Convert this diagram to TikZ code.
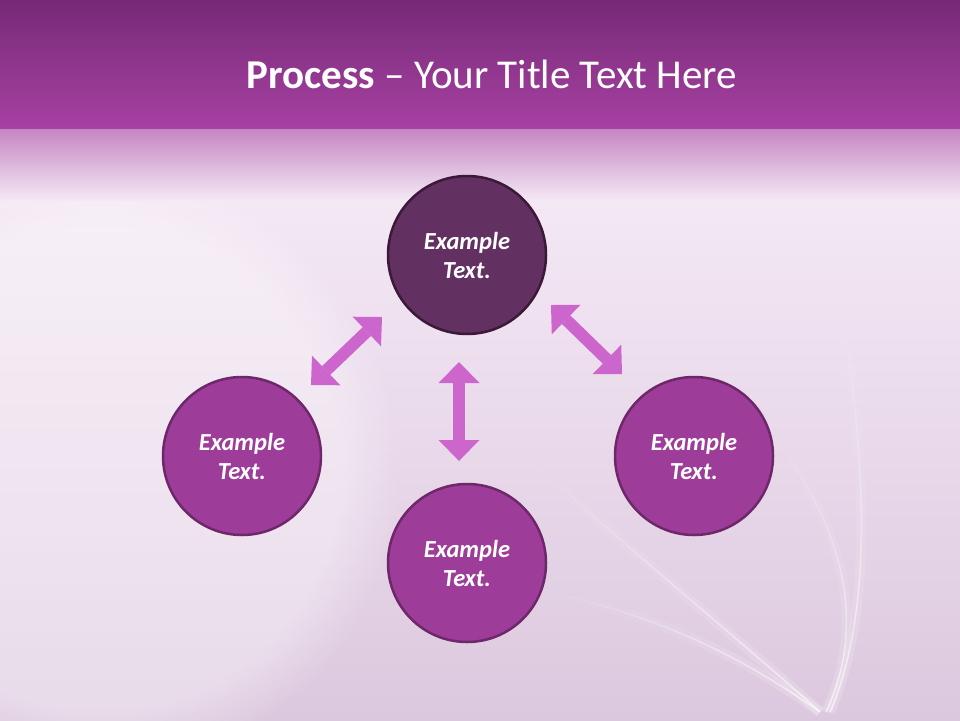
\documentclass[tikz,border=0pt]{standalone}
\usepackage{fontspec}
\setmainfont{Carlito}
\usetikzlibrary{arrows.meta,fadings}
\definecolor{bandtop}{HTML}{762A76}
\definecolor{bandbot}{HTML}{A741A3}
\definecolor{fadetop}{HTML}{C484C2}
\definecolor{fadebot}{HTML}{F4E8F5}
\definecolor{bodybot}{HTML}{DCC8DE}
\definecolor{darkfill}{HTML}{633062}
\definecolor{darkline}{HTML}{3C1839}
\definecolor{midfill}{HTML}{9D3C99}
\definecolor{midline}{HTML}{6E2869}
\definecolor{arrowc}{HTML}{CC66CC}
\tikzfading[name=fadeinE, left color=transparent!100, right color=transparent!0]
\tikzfading[name=fadeinS, top color=transparent!100, bottom color=transparent!0]
\tikzset{
  circbase/.style={circle, minimum size=158pt, inner sep=0pt, line width=2.5pt,
    text=white, align=center,
    font=\fontsize{24.5}{29}\selectfont\bfseries\itshape},
  darkcirc/.style={circbase, fill=darkfill, draw=darkline},
  midcirc/.style={circbase, fill=midfill, draw=midline},
  dblarrow/.style={draw=arrowc, line width=12pt,
    {Triangle[width=41pt,length=21pt,line width=0pt]}-{Triangle[width=41pt,length=21pt,line width=0pt]}},
  streak/.style={white, line width=1.5pt, opacity=0.6},
  glow/.style={white, line width=10pt, opacity=0.18}
}
\begin{document}
\begin{tikzpicture}[x=1pt,y=-1pt]
\useasboundingbox (0,0) rectangle (960,720);
% background
\shade[top color=fadebot, bottom color=bodybot] (0,200) rectangle (960,720);
\fill[white, opacity=0.35, path fading=circle with fuzzy edge 20 percent]
  (100,470) circle (300pt);
\shade[top color=fadetop, bottom color=fadebot] (0,128) rectangle (960,200);
\shade[top color=bandtop, bottom color=bandbot] (0,0) rectangle (960,128);
% streaks
\draw[glow, path fading=fadeinE] (540,590) .. controls (680,620) and (760,670) .. (820,712);
\draw[streak, path fading=fadeinE] (540,590) .. controls (680,620) and (760,670) .. (820,712);
\draw[glow, path fading=fadeinE] (520,450) .. controls (640,560) and (740,640) .. (820,712);
\draw[streak, path fading=fadeinE] (520,450) .. controls (640,560) and (740,640) .. (820,712);
\draw[glow, path fading=fadeinS] (760,420) .. controls (860,540) and (860,640) .. (826,712);
\draw[streak, path fading=fadeinS] (760,420) .. controls (860,540) and (860,640) .. (826,712);
\draw[glow, path fading=fadeinS] (840,300) .. controls (870,480) and (870,620) .. (830,712);
\draw[streak, path fading=fadeinS] (840,300) .. controls (870,480) and (870,620) .. (830,712);
% title
\node[anchor=base, text=white, font=\fontsize{41}{48}\selectfont] (title) at (492,88)
  {\textbf{Process} – Your Title Text Here};
% circles
\node[darkcirc] (top) at (467,255) {Example\\Text.};
\node[midcirc] (left) at (242,456) {Example\\Text.};
\node[midcirc] (right) at (694,456) {Example\\Text.};
\node[midcirc] (bottom) at (467,563) {Example\\Text.};
% arrow end points
\coordinate (va) at (459,362);
\coordinate (vb) at (459,461);
\coordinate (la) at (382,317);
\coordinate (lb) at (311,385);
\coordinate (ra) at (551,305);
\coordinate (rb) at (622,374);
\draw[dblarrow] (va) -- (vb);
\draw[dblarrow] (la) -- (lb);
\draw[dblarrow] (ra) -- (rb);
\end{tikzpicture}
\end{document}
